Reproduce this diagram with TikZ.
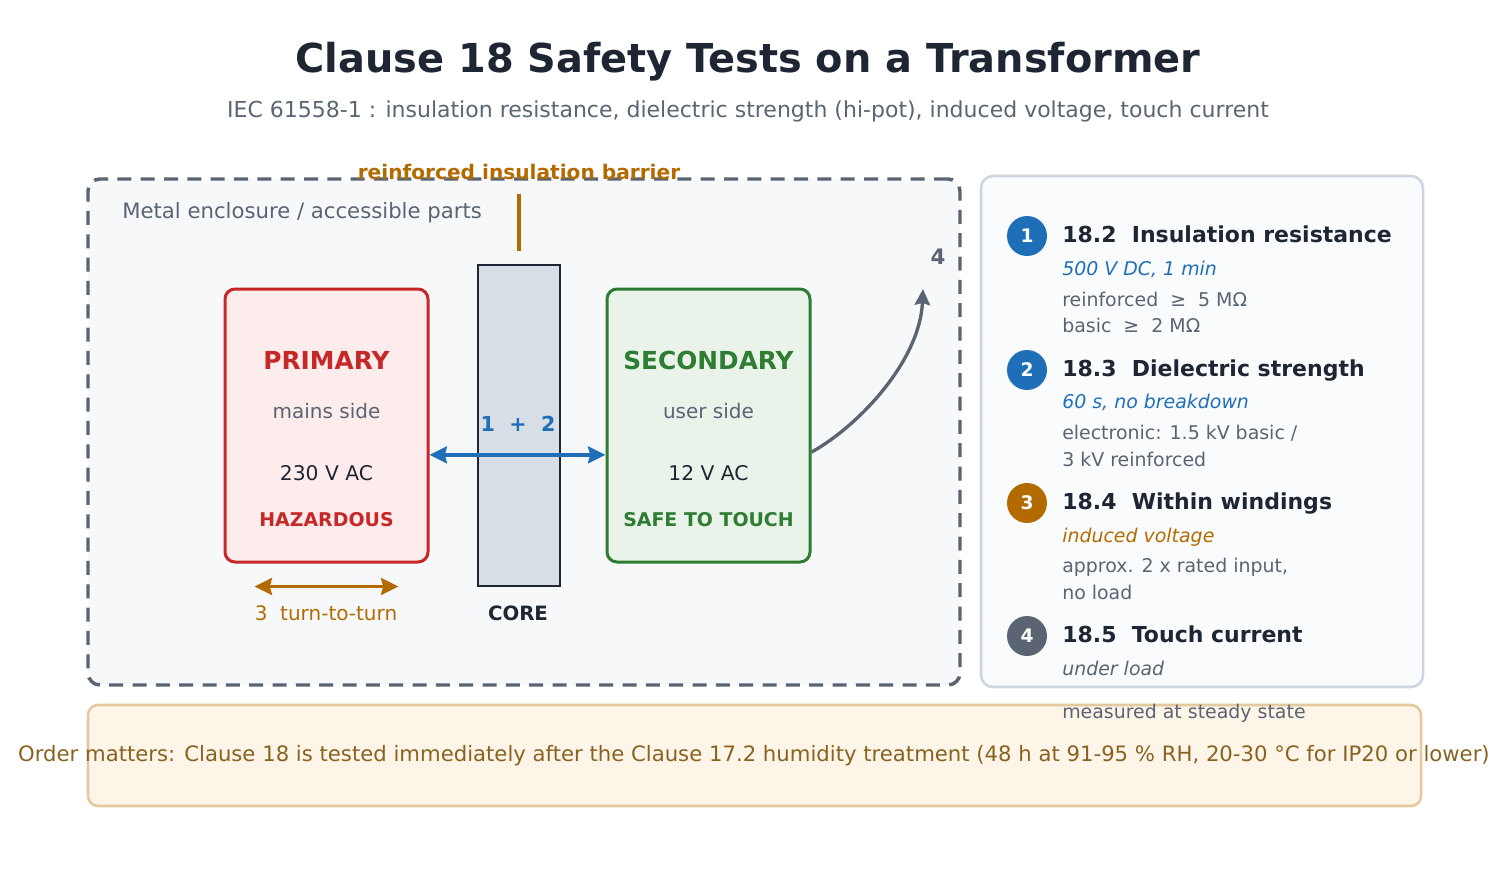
\documentclass[tikz,border=0pt]{standalone}
\usepackage{fontspec}
\setmainfont{DejaVu Sans}
\usepackage{xcolor}
\usetikzlibrary{arrows.meta, positioning}

\definecolor{ink}{HTML}{1F2633}
\definecolor{slate}{HTML}{5A6472}
\definecolor{testblue}{HTML}{1F6FB8}
\definecolor{amber}{HTML}{B36B00}
\definecolor{hazred}{HTML}{C62828}
\definecolor{safegreen}{HTML}{2E7D32}
\definecolor{enclfill}{HTML}{F7F8FA}
\definecolor{panelline}{HTML}{CDD5DF}
\definecolor{panelfill}{HTML}{FAFBFD}
\definecolor{notefill}{HTML}{FDF5E8}
\definecolor{noteline}{HTML}{E2C99E}
\definecolor{notetext}{HTML}{8A6220}
\definecolor{primfill}{HTML}{FDECEC}
\definecolor{secfill}{HTML}{EAF3EA}
\definecolor{corefill}{HTML}{D8DEE6}

\tikzset{
	txt/.style={inner sep=0pt, text height=0.75em, text depth=0.2em},
	winding/.style={rounded corners=7.5pt, line width=2.25pt, minimum width=152.25pt, minimum height=204.75pt},
	badge/.style={circle, minimum size=30pt, inner sep=0pt, text=white, font=\fontsize{14}{16}\selectfont\bfseries},
	itemhead/.style={txt, anchor=west, text=ink, font=\fontsize{16.5}{19}\selectfont\bfseries},
	itemsub/.style={txt, anchor=west, font=\fontsize{14.2}{17}\selectfont\itshape},
	itemline/.style={txt, anchor=west, text=slate, font=\fontsize{14.2}{17}\selectfont},
	testtip/.tip={Stealth[length=13pt, width=12.5pt, inset=1.5pt]},
}

\begin{document}
\begin{tikzpicture}[x=0.75pt, y=-0.75pt]
	\useasboundingbox (0,0) rectangle (1509,871);
	% Title:
	\node[txt, text=ink, font=\fontsize{29.9}{34}\selectfont\bfseries] (title) at (748,69) {Clause 18 Safety Tests on a Transformer};
	\node[txt, text=slate, font=\fontsize{16.5}{19}\selectfont] (subtitle) at (748,114) {IEC 61558-1 : insulation resistance, dielectric strength (hi-pot), induced voltage, touch current};
	% Enclosure, core and windings:
	\node[draw=slate, fill=enclfill, line width=2.6pt, dash pattern=on 10.5pt off 7pt, rounded corners=9pt, minimum width=654pt, minimum height=379.5pt] (encl) at (524,432) {};
	\node[txt, anchor=west, text=slate, font=\fontsize{15.9}{19}\selectfont] (encllabel) at (122,215) {Metal enclosure / accessible parts};
	\node[draw=ink, fill=corefill, line width=2.1pt, minimum width=61.5pt, minimum height=240.75pt] (core) at (519,425.5) {};
	\node[txt, text=ink, font=\fontsize{14.8}{17}\selectfont\bfseries] (corelabel) at (518,617) {CORE};
	\node[txt, text=amber, font=\fontsize{15.1}{18}\selectfont\bfseries] (barrier) at (519,176) {reinforced insulation barrier};
	\draw[amber, line width=3pt] ([yshift=9.75pt]core.north) -- ([yshift=52.5pt]core.north);
	\node[winding, draw=hazred, fill=primfill] (primary) at (326.5,425.5) {};
	\node[txt, text=hazred, font=\fontsize{18.6}{21}\selectfont\bfseries] (primname) at (326.5,366) {PRIMARY};
	\node[txt, text=slate, font=\fontsize{15}{18}\selectfont] (primside) at (326.5,415) {mains side};
	\node[txt, text=ink, font=\fontsize{15.2}{18}\selectfont] (primvolt) at (326.5,477) {230 V AC};
	\node[txt, text=hazred, font=\fontsize{14.2}{17}\selectfont\bfseries] (primnote) at (326.5,523) {HAZARDOUS};
	\node[winding, draw=safegreen, fill=secfill] (secondary) at (708.5,425.5) {};
	\node[txt, text=safegreen, font=\fontsize{18.6}{21}\selectfont\bfseries] (secname) at (708.5,366) {SECONDARY};
	\node[txt, text=slate, font=\fontsize{15}{18}\selectfont] (secside) at (708.5,415) {user side};
	\node[txt, text=ink, font=\fontsize{15.2}{18}\selectfont] (secvolt) at (708.5,477) {12 V AC};
	\node[txt, text=safegreen, font=\fontsize{14.2}{17}\selectfont\bfseries] (secnote) at (708.5,523) {SAFE TO TOUCH};
	% Test paths:
	\draw[testblue, line width=3.2pt, testtip-testtip] ([yshift=-22pt]primary.east) -- ([yshift=-22pt]secondary.west);
	\node[txt, text=testblue, font=\fontsize{15.5}{18}\selectfont\bfseries] (test12) at (518,428) {1~~+~~2};
	\draw[amber, line width=2.8pt, testtip-testtip] ([xshift=-54pt, yshift=-17.25pt]primary.south) -- ([xshift=54pt, yshift=-17.25pt]primary.south);
	\node[txt, text=amber, font=\fontsize{15}{18}\selectfont] (test3) at (326,617) {3~~turn-to-turn};
	\coordinate (tip4) at (923,289);
	\node[txt, text=slate, font=\fontsize{16}{18}\selectfont\bfseries] (test4) at (938,261) {4};
	\draw[slate, line width=2.5pt, -{Stealth[length=12pt, width=11.5pt, inset=1.5pt]}] ([yshift=-20pt]secondary.east) .. controls (860,425) and (920,360) .. (tip4);
	% Footer note:
	\node[draw=noteline, fill=notefill, line width=1.9pt, rounded corners=7.5pt, minimum width=999.75pt, minimum height=75.75pt] (note) at (754.5,755.5) {};
	\node[txt, text=notetext, font=\fontsize{15.9}{19}\selectfont] (notetext) at (754,758) {Order matters: Clause 18 is tested immediately after the Clause 17.2 humidity treatment (48 h at 91-95 \% RH, 20-30 °C for IP20 or lower)};
	% Test list:
	\node[draw=panelline, fill=panelfill, line width=1.9pt, rounded corners=9pt, minimum width=331.5pt, minimum height=383.25pt] (panel) at (1202,431.5) {};
	\node[badge, fill=testblue] (b1) at (1027,236) {1};
	\node[itemhead] (h1) at (1062,239) {18.2~~Insulation resistance};
	\node[itemsub, text=testblue] (s1) at (1062,272) {500 V DC, 1 min};
	\node[itemline] (d1a) at (1062,303) {reinforced ~≥~ 5 MΩ};
	\node[itemline] (d1b) at (1062,329) {basic ~≥~ 2 MΩ};
	\node[badge, fill=testblue] (b2) at (1027,370) {2};
	\node[itemhead] (h2) at (1062,373) {18.3~~Dielectric strength};
	\node[itemsub, text=testblue] (s2) at (1062,405) {60 s, no breakdown};
	\node[itemline] (d2a) at (1062,436) {electronic: 1.5 kV basic /};
	\node[itemline] (d2b) at (1062,463) {3 kV reinforced};
	\node[badge, fill=amber] (b3) at (1027,503) {3};
	\node[itemhead] (h3) at (1062,506) {18.4~~Within windings};
	\node[itemsub, text=amber] (s3) at (1062,539) {induced voltage};
	\node[itemline] (d3a) at (1062,569) {approx. 2 x rated input,};
	\node[itemline] (d3b) at (1062,596) {no load};
	\node[badge, fill=slate] (b4) at (1027,636) {4};
	\node[itemhead] (h4) at (1062,639) {18.5~~Touch current};
	\node[itemsub, text=slate] (s4) at (1062,672) {under load};
	\node[itemline] (d4a) at (1062,715) {measured at steady state};
\end{tikzpicture}
\end{document}
